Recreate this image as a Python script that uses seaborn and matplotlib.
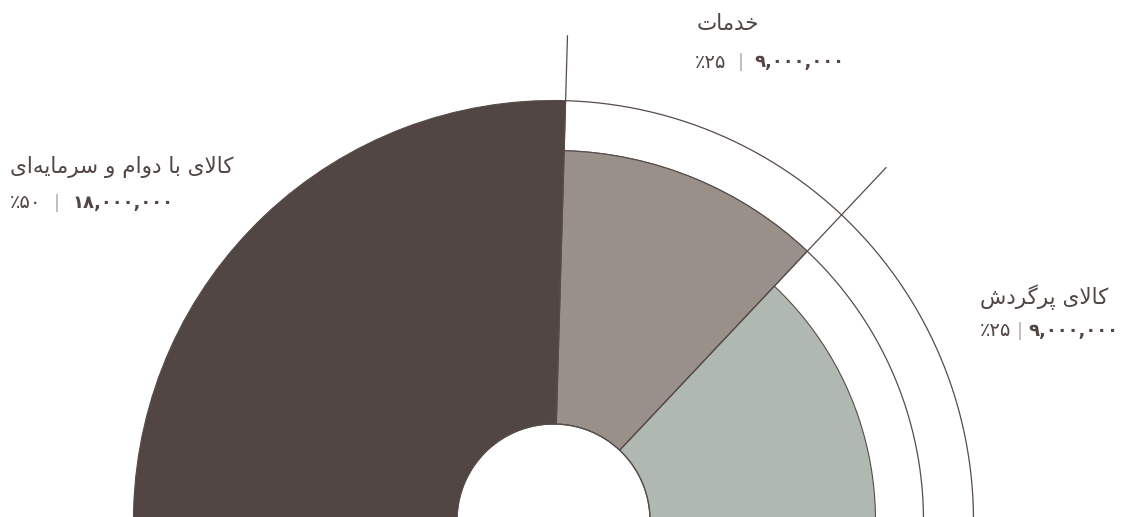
import numpy as np
import matplotlib
matplotlib.use("Agg")
import matplotlib.pyplot as plt
import seaborn as sns
from matplotlib.offsetbox import TextArea, HPacker, AnnotationBbox

# data
labels = ['کالای با دوام و سرمایه\u200cای', 'خدمات', 'کالای پرگردش']
amounts = [18000000, 9000000, 9000000]
shares = [50, 25, 25]
colors = ['#514643', '#989089', '#afb8b1']

# layout (pixels, center of the rose sits just under the bottom edge)
W, H = 1131, 517
cx, cy = 553.5, -3.5
ring_r = [420, 370, 322]
hole_r = 96.5
lead_r = 485
sector_deg = [(-178.35, 1.65), (1.65, 43.3), (43.3, 181.65)]
name_px = [(10, 167), (697, 24), (980, 297)]
row_px = [(10, 203), (695, 62), (980, 331)]
row_sep = [9, 8, 4]

# -- tiny persian shaper (matplotlib has no bidi / joining) --
FORMS = {
    'ا': ('\uFE8D', '\uFE8E', None, None),
    'ب': ('\uFE8F', '\uFE90', '\uFE91', '\uFE92'),
    'پ': ('\uFB56', '\uFB57', '\uFB58', '\uFB59'),
    'ت': ('\uFE95', '\uFE96', '\uFE97', '\uFE98'),
    'خ': ('\uFEA5', '\uFEA6', '\uFEA7', '\uFEA8'),
    'د': ('\uFEA9', '\uFEAA', None, None),
    'ر': ('\uFEAD', '\uFEAE', None, None),
    'س': ('\uFEB1', '\uFEB2', '\uFEB3', '\uFEB4'),
    'ش': ('\uFEB5', '\uFEB6', '\uFEB7', '\uFEB8'),
    'ل': ('\uFEDD', '\uFEDE', '\uFEDF', '\uFEE0'),
    'م': ('\uFEE1', '\uFEE2', '\uFEE3', '\uFEE4'),
    'ه': ('\uFEE9', '\uFEEA', '\uFEEB', '\uFEEC'),
    'و': ('\uFEED', '\uFEEE', None, None),
    'ک': ('\uFB8E', '\uFB8F', '\uFB90', '\uFB91'),
    'گ': ('\uFB92', '\uFB93', '\uFB94', '\uFB95'),
    'ی': ('\uFBFC', '\uFBFD', '\uFBFE', '\uFBFF'),
}


def dual(c):
    return c in FORMS and FORMS[c][2] is not None


def shape(text):
    out = []
    i = 0
    while i < len(text):
        c = text[i]
        prev = text[i - 1] if i > 0 else ''
        if c not in FORMS:
            if c != '\u200c':
                out.append(c)
            i += 1
            continue
        pj = dual(prev)
        if c == 'ل' and i + 1 < len(text) and text[i + 1] == 'ا':
            out.append('\uFEFC' if pj else '\uFEFB')
            i += 2
            continue
        nxt = text[i + 1] if i + 1 < len(text) else ''
        nj = dual(c) and nxt in FORMS
        iso, fin, ini, med = FORMS[c]
        if pj and nj:
            out.append(med)
        elif pj:
            out.append(fin)
        elif nj:
            out.append(ini)
        else:
            out.append(iso)
        i += 1
    return ''.join(out[::-1])


def fa_digits(s):
    return s.translate(str.maketrans('0123456789', '۰۱۲۳۴۵۶۷۸۹'))


sns.set_theme(style='white')
plt.rcParams['font.family'] = ['DejaVu Sans']
ink = '#514643'
line_ink = '#574c49'

fig = plt.figure(figsize=(W / 100, H / 100), dpi=100)
R = 500
ax = fig.add_axes([(cx - R) / W, (cy - R) / H, 2 * R / W, 2 * R / H], projection='polar')
ax.set_theta_zero_location('N')
ax.set_theta_direction(-1)
ax.set_ylim(0, R)
ax.axis('off')

for (a0, a1), r, col in zip(sector_deg, ring_r, colors):
    ax.bar(np.deg2rad((a0 + a1) / 2), r - hole_r, width=np.deg2rad(a1 - a0),
           bottom=hole_r, color=col, edgecolor=line_ink, linewidth=0.8, zorder=2)

# outline rings on the right side
t = np.deg2rad(np.linspace(sector_deg[1][0], 200, 400))
for r in ring_r[:2]:
    ax.plot(t, np.full_like(t, r), color=line_ink, lw=0.9, zorder=1)
th = np.linspace(0, 2 * np.pi, 400)
ax.plot(th, np.full_like(th, hole_r), color=line_ink, lw=0.9, zorder=3)

# leader lines along sector borders
for a in [sector_deg[1][0], sector_deg[1][1]]:
    ax.plot([np.deg2rad(a)] * 2, [hole_r, lead_r], color=line_ink, lw=0.9, zorder=3)

for name, amt, sh, npos, rpos, sp in zip(labels, amounts, shares, name_px, row_px, row_sep):
    title = TextArea(shape(name), textprops=dict(color=ink, fontsize=15.5))
    ab = AnnotationBbox(title, (npos[0] / W, 1 - npos[1] / H), xycoords='figure fraction',
                        box_alignment=(0, 0.5), frameon=False, pad=0)
    fig.add_artist(ab)
    pct = TextArea('٪' + fa_digits(str(sh)), textprops=dict(color=ink, fontsize=14))
    bar = TextArea('|', textprops=dict(color='#b0aaa6', fontsize=13))
    num = TextArea(fa_digits(f'{amt:,}'), textprops=dict(color=ink, fontsize=13, fontweight='bold'))
    row = HPacker(children=[pct, bar, num], sep=sp, align='center')
    ab = AnnotationBbox(row, (rpos[0] / W, 1 - rpos[1] / H), xycoords='figure fraction',
                        box_alignment=(0, 0.5), frameon=False, pad=0)
    fig.add_artist(ab)

fig.savefig('out.png', dpi=100)
